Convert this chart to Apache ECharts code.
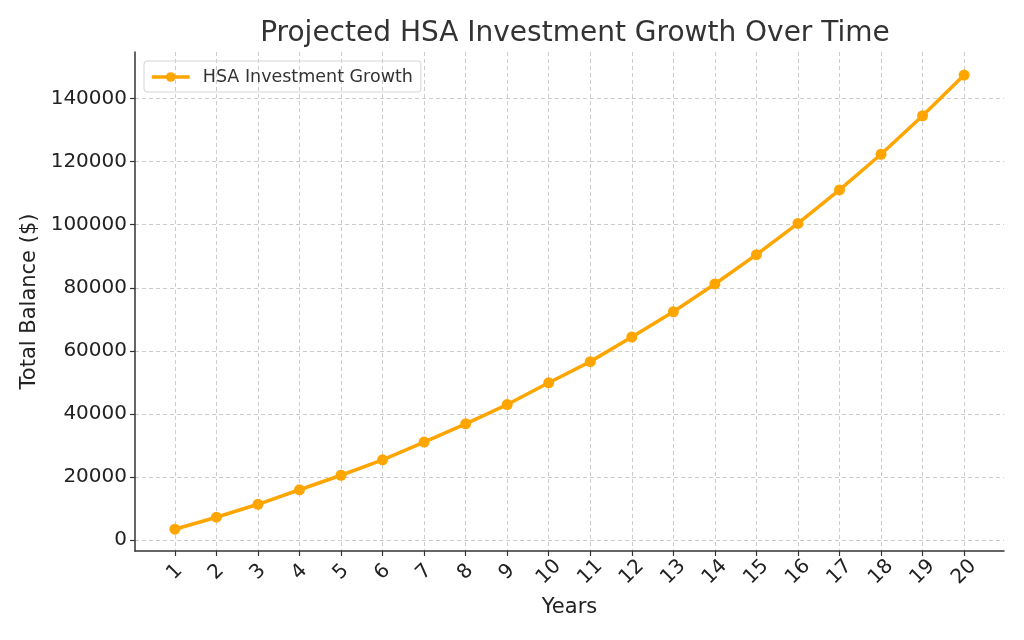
<!DOCTYPE html>
<html>
<head>
<meta charset="utf-8">
<script src="https://cdn.jsdelivr.net/npm/echarts@6/dist/echarts.min.js"></script>
<style>html,body{margin:0;padding:0;background:#fff}#c{width:1024px;height:640px}</style>
</head>
<body>
<div id="c"></div>
<script>
const years = [1,2,3,4,5,6,7,8,9,10,11,12,13,14,15,16,17,18,19,20];
const balances = [3500,7300,11400,16000,20600,25500,31100,36900,43000,49900,56600,64400,72400,81200,90500,100400,111000,122300,134500,147400];
const yTicks = [0,20000,40000,60000,80000,100000,120000,140000];
const seriesName = 'HSA Investment Growth';
const titleText = 'Projected HSA Investment Growth Over Time';

const chart = echarts.init(document.getElementById('c'), null, {renderer: 'canvas'});
const FONT = 'DejaVu Sans';
chart.setOption({
  animation: false,
  backgroundColor: '#ffffff',
  title: {
    text: titleText, left: 570, top: 15, textAlign: 'center',
    textStyle: {fontFamily: FONT, fontSize: 28, fontWeight: 'normal', color: '#333333'}
  },
  legend: {
    left: 144, top: 61, orient: 'vertical',
    data: [seriesName],
    itemWidth: 38, itemHeight: 12,
    padding: [7, 8, 6, 6],
    borderColor: '#d5d5d5', borderWidth: 1, borderRadius: 3,
    lineStyle: {width: 3.5},
    textStyle: {fontFamily: FONT, fontSize: 17.5, color: '#333333', padding: [0, 0, 0, 8]}
  },
  grid: {left: 135, right: 20, top: 52, bottom: 89, containLabel: false},
  xAxis: {
    type: 'value', min: 0.04, max: 20.96,
    name: 'Years', nameLocation: 'middle', nameGap: 46,
    nameTextStyle: {fontFamily: FONT, fontSize: 21, color: '#222222'},
    axisLine: {show: true, onZero: false, lineStyle: {color: '#333333', width: 1.5}},
    axisTick: {show: true, length: 5, customValues: years, lineStyle: {color: '#333333', width: 1.2}},
    axisLabel: {customValues: years, rotate: 45, margin: 21, align: 'center', verticalAlign: 'middle',
      fontFamily: FONT, fontSize: 20, color: '#222222'},
    splitLine: {show: true, lineStyle: {color: '#cccccc', type: [4, 3], width: 1}}
  },
  yAxis: {
    type: 'value', min: -3400, max: 154700,
    name: 'Total Balance ($)', nameLocation: 'middle', nameGap: 94, nameRotate: 90,
    nameTextStyle: {fontFamily: FONT, fontSize: 21, color: '#222222'},
    axisLine: {show: true, onZero: false, lineStyle: {color: '#333333', width: 1.5}},
    axisTick: {show: true, length: 5, customValues: yTicks, lineStyle: {color: '#333333', width: 1.2}},
    axisLabel: {customValues: yTicks, margin: 8, fontFamily: FONT, fontSize: 20, color: '#222222',
      formatter: v => String(v)},
    splitLine: {show: true, lineStyle: {color: '#cccccc', type: [4, 3], width: 1}}
  },
  series: [{
    name: seriesName, type: 'line',
    data: years.map((y, i) => [y, balances[i]]),
    symbol: 'circle', symbolSize: 11,
    lineStyle: {color: '#FFA500', width: 3.5},
    itemStyle: {color: '#FFA500'}
  }]
});
</script>
</body>
</html>
